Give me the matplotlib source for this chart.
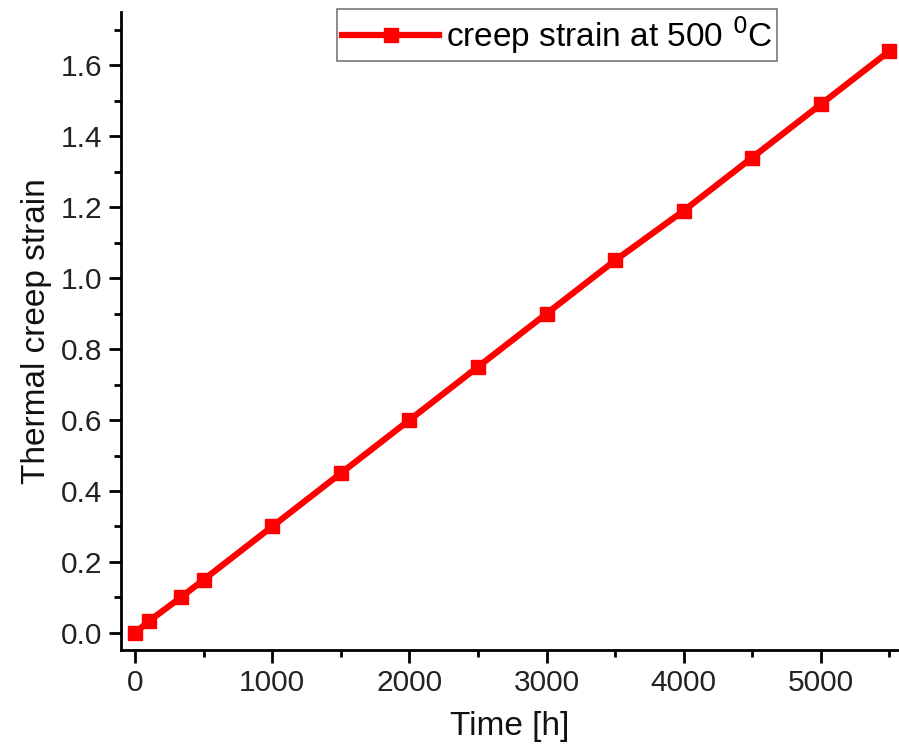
import matplotlib.pyplot as plt

plt.rcParams['font.family'] = ['Liberation Sans', 'DejaVu Sans']

# creep-kurva vid 500 C
time_h = [0, 100, 333, 500, 1000, 1500, 2000, 2500, 3000, 3500, 4000, 4500, 5000, 5500]
strain = [0.0, 0.033, 0.10, 0.15, 0.30, 0.45, 0.60, 0.75, 0.90, 1.05, 1.19, 1.34, 1.49, 1.64]

fig = plt.figure(figsize=(8.99, 7.54), dpi=100)
ax = fig.add_axes([0.135, 0.138, 0.865, 0.846])

ax.plot(time_h, strain, color='#ff0000', linewidth=4.5, marker='s',
        markersize=10.5, label='creep strain at 500 $^0$C', clip_on=False)

ax.set_xlim(-100, 5570)
ax.set_ylim(-0.048, 1.75)
ax.set_xticks(range(0, 5001, 1000))
ax.set_xticks(range(500, 5501, 1000), minor=True)
ax.set_yticks([0.0, 0.2, 0.4, 0.6, 0.8, 1.0, 1.2, 1.4, 1.6])
ax.set_yticks([0.1, 0.3, 0.5, 0.7, 0.9, 1.1, 1.3, 1.5, 1.7], minor=True)
ax.set_yticklabels(['0.0', '0.2', '0.4', '0.6', '0.8', '1.0', '1.2', '1.4', '1.6'])

ax.spines['top'].set_visible(False)
ax.spines['right'].set_visible(False)
ax.spines['left'].set_linewidth(2)
ax.spines['bottom'].set_linewidth(2)
ax.tick_params(which='major', direction='out', length=9, width=2, labelsize=21.5,
               pad=5, labelcolor='#222222')
ax.tick_params(which='minor', direction='out', length=5, width=2)

ax.set_xlabel('Time [h]', fontsize=24, labelpad=10, color='#111111')
ax.set_ylabel('Thermal creep strain', fontsize=24, labelpad=6, color='#111111')

leg = ax.legend(loc='upper left', bbox_to_anchor=(0.265, 1.02), fontsize=24,
                frameon=True, fancybox=False, edgecolor='#555555',
                handlelength=2.9, borderpad=0.15, handletextpad=0.2,
                borderaxespad=0.3)
leg.get_frame().set_linewidth(1.2)

fig.savefig('out.png', dpi=100)
